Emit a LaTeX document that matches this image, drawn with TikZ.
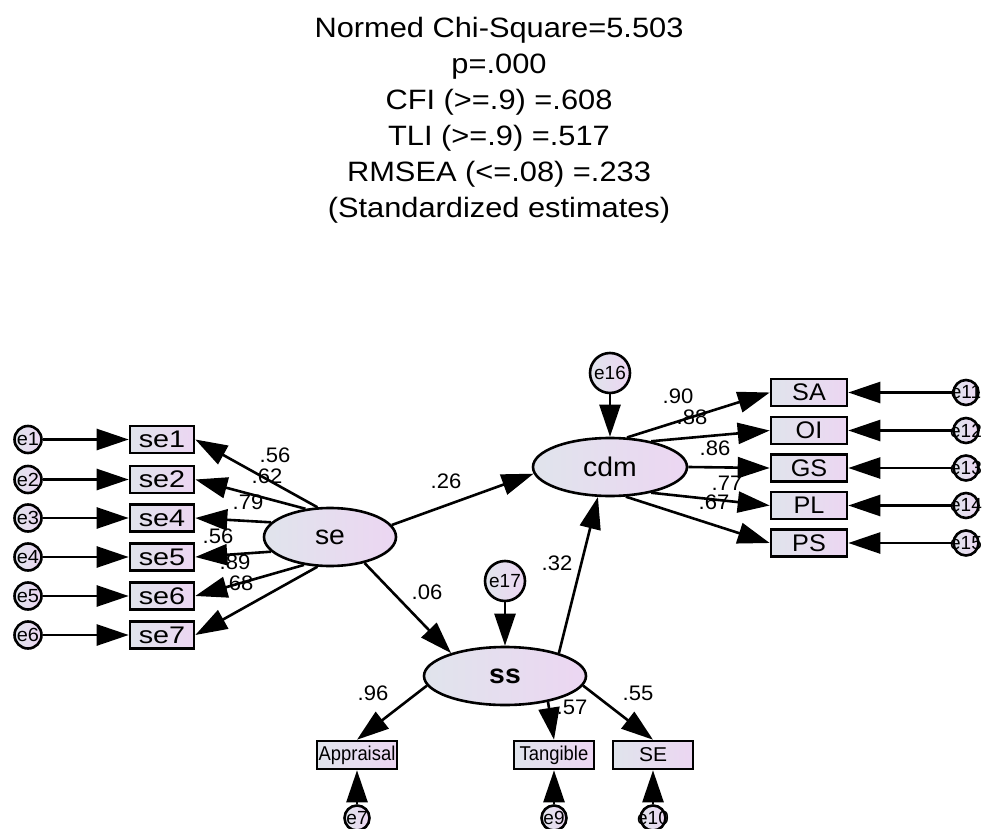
\documentclass[tikz,border=0pt]{standalone}
\usepackage{fontspec}
\setmainfont{Liberation Sans}
\usetikzlibrary{arrows.meta,shapes.geometric}
\definecolor{cl}{HTML}{E0E4EC}
\definecolor{cr}{HTML}{ECD6F2}
\newcommand{\hx}[2]{\scalebox{#1}[1]{#2}}
\newcommand{\zw}[1]{\makebox[0pt]{#1}}
\begin{document}
\begin{tikzpicture}[x=1pt,y=-1pt,
  obsbox/.style={draw, line width=2.6pt, left color=cl, right color=cr, rectangle, inner sep=0pt, minimum width=64pt, minimum height=27pt, font=\fontsize{24}{24}\selectfont},
  smallbox/.style={obsbox, minimum width=80pt, minimum height=28pt, font=\fontsize{20}{20}\selectfont},
  latent/.style={draw, ellipse, line width=2.6pt, left color=cl, right color=cr, inner sep=0pt, minimum height=58pt, font=\fontsize{27}{27}\selectfont},
  errc/.style={draw, circle, line width=2.6pt, left color=cl, right color=cr, inner sep=0pt, minimum size=25pt, font=\fontsize{19}{19}\selectfont},
  errbig/.style={errc, minimum size=40pt, font=\fontsize{19}{19}\selectfont},
  arr/.style={line width=2.6pt, -{Triangle[length=32pt,width=21pt]}},
  coef/.style={font=\fontsize{21}{21}\selectfont, inner sep=0pt},
  ttl/.style={font=\fontsize{28}{28}\selectfont, inner sep=0pt, anchor=base}
]
\useasboundingbox (0,0) rectangle (982,829);
% title
\node[ttl] (t1) at (499,38)  {\hx{1.1}{Normed Chi-Square=5.503}};
\node[ttl] (t2) at (499,74)  {\hx{1.1}{p=.000}};
\node[ttl] (t3) at (499,110) {\hx{1.1}{CFI (>=.9) =.608}};
\node[ttl] (t4) at (499,146) {\hx{1.1}{TLI (>=.9) =.517}};
\node[ttl] (t5) at (499,182) {\hx{1.1}{RMSEA (<=.08) =.233}};
\node[ttl] (t6) at (499,218) {\hx{1.1}{(Standardized estimates)}};
% left indicators
\node[obsbox] (se1) at (162,439.5) {\hx{1.2}{se1}};
\node[obsbox] (se2) at (162,479.5) {\hx{1.2}{se2}};
\node[obsbox] (se4) at (162,518)   {\hx{1.2}{se4}};
\node[obsbox] (se5) at (162,557)   {\hx{1.2}{se5}};
\node[obsbox] (se6) at (162,596)   {\hx{1.2}{se6}};
\node[obsbox] (se7) at (162,635)   {\hx{1.2}{se7}};
\node[errc, minimum size=27pt] (e1) at (28,439.5) {\zw{\hx{1.05}{e1}}};
\node[errc, minimum size=27pt] (e2) at (28,479.5) {\zw{\hx{1.05}{e2}}};
\node[errc, minimum size=27pt] (e3) at (28,518)   {\zw{\hx{1.05}{e3}}};
\node[errc, minimum size=27pt] (e4) at (28,557)   {\zw{\hx{1.05}{e4}}};
\node[errc, minimum size=27pt] (e5) at (28,596)   {\zw{\hx{1.05}{e5}}};
\node[errc, minimum size=27pt] (e6) at (28,635)   {\zw{\hx{1.05}{e6}}};
% latents
\node[latent, minimum width=132pt] (se)  at (330,537) {\hx{1.05}{se}};
\node[latent, minimum width=154pt] (cdm) at (610,467) {\hx{1.05}{cdm}};
\node[latent, minimum width=162pt] (ss)  at (505,676) {\hx{1.05}{\textbf{ss}}};
\node[errbig] (e16) at (610,373) {e16};
\node[errbig] (e17) at (505,581) {e17};
% right indicators
\node[obsbox, minimum width=76pt] (SA) at (809,392.5) {\hx{1.05}{SA}};
\node[obsbox, minimum width=76pt] (OI) at (809,430.5) {\hx{1.05}{OI}};
\node[obsbox, minimum width=76pt] (GS) at (809,468)   {\hx{1.05}{GS}};
\node[obsbox, minimum width=76pt] (PL) at (809,505.5) {\hx{1.05}{PL}};
\node[obsbox, minimum width=76pt] (PS) at (809,543)   {\hx{1.05}{PS}};
\node[errc] (e11) at (966,392.5) {\zw{e11}};
\node[errc] (e12) at (966,430.5) {\zw{e12}};
\node[errc] (e13) at (966,468)   {\zw{e13}};
\node[errc] (e14) at (966,505.5) {\zw{e14}};
\node[errc] (e15) at (966,543)   {\zw{e15}};
% bottom indicators
\node[smallbox] (App) at (357,755) {\hx{0.92}{Appraisal}};
\node[smallbox] (Tan) at (554,755) {\hx{0.92}{Tangible}};
\node[smallbox] (SE)  at (653,755) {\hx{1.05}{SE}};
\node[errc] (e7)  at (357,818) {\zw{e7}};
\node[errc] (e9)  at (554,818) {\zw{e9}};
\node[errc] (e10) at (653,818) {\zw{e10}};
% error arrows
\foreach \e/\b in {e1/se1,e2/se2,e3/se4,e4/se5,e5/se6,e6/se7}
  \draw[arr] (\e) -- (\b.west);
\foreach \e/\b in {e11/SA,e12/OI,e13/GS,e14/PL,e15/PS}
  \draw[arr] (\e) -- (\b.east);
\foreach \e/\b in {e7/App,e9/Tan,e10/SE}
  \draw[arr] (\e) -- (\b.south);
\draw[arr] (e16) -- (cdm.north);
\draw[arr] (e17) -- (ss.north);
% loadings se
\draw[arr] (se.113) -- (se1.east);
\draw[arr] (se.131) -- (se2.east);
\draw[arr] (se.166) -- (se4.east);
\draw[arr] (se.194) -- (se5.east);
\draw[arr] (se.227) -- (se6.east);
\draw[arr] (se.247) -- (se7.east);
% structural
\draw[arr] (se.11) -- (cdm.185);
\draw[arr] (se.323) -- (ss.157);
\draw[arr] (ss.23) -- (cdm.248);
% loadings cdm
\draw[arr] (cdm.60) -- (SA.west);
\draw[arr] (cdm.32) -- (OI.west);
\draw[arr] (cdm.0) -- (GS.west);
\draw[arr] (cdm.328) -- (PL.west);
\draw[arr] (cdm.298) -- (PS.west);
% loadings ss
\draw[arr] (ss.187) -- (App.north);
\draw[arr] (ss.329) -- (Tan.north);
\draw[arr] (ss.353) -- (SE.north);
% coefficients
\node[coef] (c1) at (275,455) {\hx{1.05}{.56}};
\node[coef] (c2) at (267,476) {\hx{1.05}{.62}};
\node[coef] (c3) at (248,502) {\hx{1.05}{.79}};
\node[coef] (c4) at (218,536) {\hx{1.05}{.56}};
\node[coef] (c5) at (235,562) {\hx{1.05}{.89}};
\node[coef] (c6) at (238,583) {\hx{1.05}{.68}};
\node[coef] (c7) at (446,481) {\hx{1.05}{.26}};
\node[coef] (c8) at (427,592) {\hx{1.05}{.06}};
\node[coef] (c9) at (557,563) {\hx{1.05}{.32}};
\node[coef] (c10) at (678,396) {\hx{1.05}{.90}};
\node[coef] (c11) at (692,417) {\hx{1.05}{.88}};
\node[coef] (c12) at (715,448) {\hx{1.05}{.86}};
\node[coef] (c13) at (727,483) {\hx{1.05}{.77}};
\node[coef] (c14) at (714,502) {\hx{1.05}{.67}};
\node[coef] (c15) at (373,693) {\hx{1.05}{.96}};
\node[coef] (c16) at (572,707) {\hx{1.05}{.57}};
\node[coef] (c17) at (638,693) {\hx{1.05}{.55}};
\end{tikzpicture}
\end{document}
